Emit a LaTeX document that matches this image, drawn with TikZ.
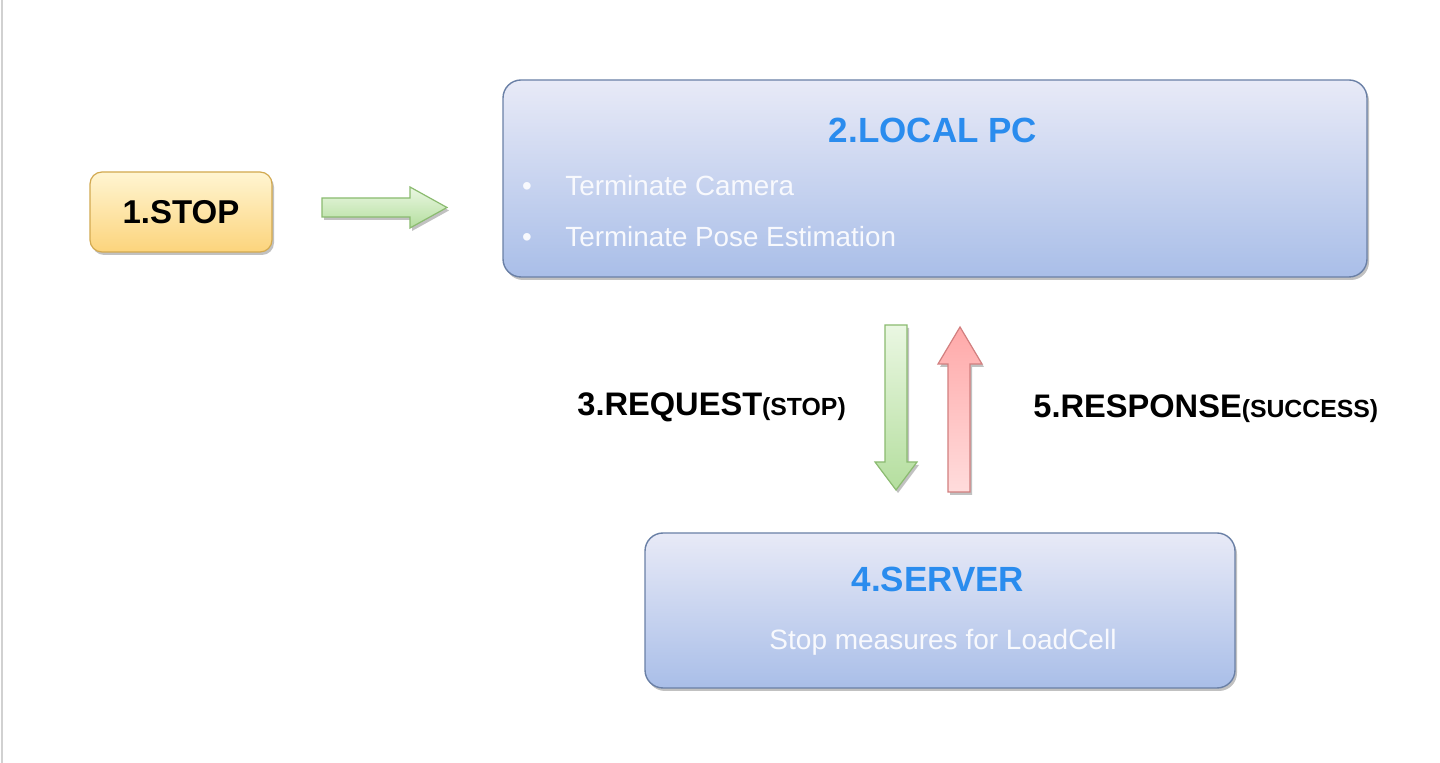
\documentclass[tikz,border=0pt]{standalone}
\usepackage{fontspec}
\setmainfont{Liberation Sans}
\usetikzlibrary{shadows,positioning}

\definecolor{stoptop}{HTML}{FFF5D2}
\definecolor{stopbot}{HTML}{FCD47C}
\definecolor{stopline}{HTML}{D2A950}
\definecolor{boxtop}{HTML}{E8EAF7}
\definecolor{boxbot}{HTML}{A9BEE8}
\definecolor{boxline}{HTML}{6A80A6}
\definecolor{titleblue}{HTML}{2A8CEE}
\definecolor{itemwhite}{HTML}{F8F9FD}
\definecolor{greentop}{HTML}{EAF7E2}
\definecolor{greenbot}{HTML}{B4DE9E}
\definecolor{greenline}{HTML}{8BBB70}
\definecolor{redtop}{HTML}{FFA9A9}
\definecolor{redbot}{HTML}{FFDCDC}
\definecolor{redline}{HTML}{D27F7F}

\begin{document}
\begin{tikzpicture}[
            x=0.5pt,y=0.5pt,
            every node/.style={inner sep=0pt},
            shade/.style={drop shadow={shadow xshift=1pt,shadow yshift=-1.5pt,
                    opacity=.3,fill=black!80}},
            stopbox/.style={shade,rounded corners=6pt,draw=stopline,line width=.6pt,
                    top color=stoptop,bottom color=stopbot,
                    minimum width=91pt,minimum height=40pt},
            bluebox/.style={shade,rounded corners=9pt,draw=boxline,line width=.7pt,
                    top color=boxtop,bottom color=boxbot},
            title/.style={font=\fontsize{17.5}{21}\selectfont\bfseries,text=titleblue},
            item/.style={font=\fontsize{13.9}{16}\selectfont,text=itemwhite},
            lbl/.style={font=\fontsize{16.3}{19}\selectfont\bfseries},
            greenarrow/.style={shade,draw=greenline,line width=.6pt,
                    top color=greentop,bottom color=greenbot},
            redarrow/.style={shade,draw=redline,line width=.6pt,
                    top color=redtop,bottom color=redbot}
        ]

        \useasboundingbox (0,0) rectangle (1440,-763);
        \fill[white] (0,0) rectangle (1440,-763);
        \draw[black!18,line width=1pt] (2,0) -- (2,-763);

        \node[stopbox] (stop) at (181,-212) {};
        \node[font=\fontsize{16.5}{20}\selectfont\bfseries] (stoptxt) at (stop) {1.STOP};

        \node[bluebox,minimum width=432pt,minimum height=98.5pt] (localpc) at (935,-178.5) {};
        \node[title,anchor=base] (pctitle) at (933,-143) {2.LOCAL PC};
        \node[item,anchor=base] (dot1) at (527,-196) {\textbullet};
        \node[item,anchor=base west] (cam) at (565,-196) {Terminate Camera};
        \node[item,anchor=base] (dot2) at (527,-247) {\textbullet};
        \node[item,anchor=base west] (pose) at (565,-247) {Terminate Pose Estimation};

        \node[bluebox,minimum width=295pt,minimum height=77.5pt] (server) at (940,-610.5) {};
        \node[title,anchor=base] (srvtitle) at (938,-592) {4.SERVER};
        \node[item,anchor=base,font=\fontsize{14}{17}\selectfont] (loadcell) at (943,-650)
        {Stop measures for LoadCell};

        \path[greenarrow] (322,-198) -- (410,-198) -- (410,-187) -- (447,-207.5)
        -- (410,-228) -- (410,-217) -- (322,-217) -- cycle;
        \path[greenarrow] (885,-325) -- (907,-325) -- (907,-462) -- (917,-462)
        -- (896,-490) -- (875,-462) -- (885,-462) -- cycle;
        \path[redarrow] (960,-327) -- (982,-364) -- (970,-364) -- (970,-492)
        -- (948,-492) -- (948,-364) -- (938,-364) -- cycle;

        \node[lbl,anchor=base west] (req) at (577,-416)
        {3.REQUEST{\fontsize{12.4}{14}\selectfont(STOP)}};
        \node[lbl,anchor=base west] (resp) at (1033,-418)
        {5.RESPONSE{\fontsize{12.4}{14}\selectfont(SUCCESS)}};
    \end{tikzpicture}
\end{document}
